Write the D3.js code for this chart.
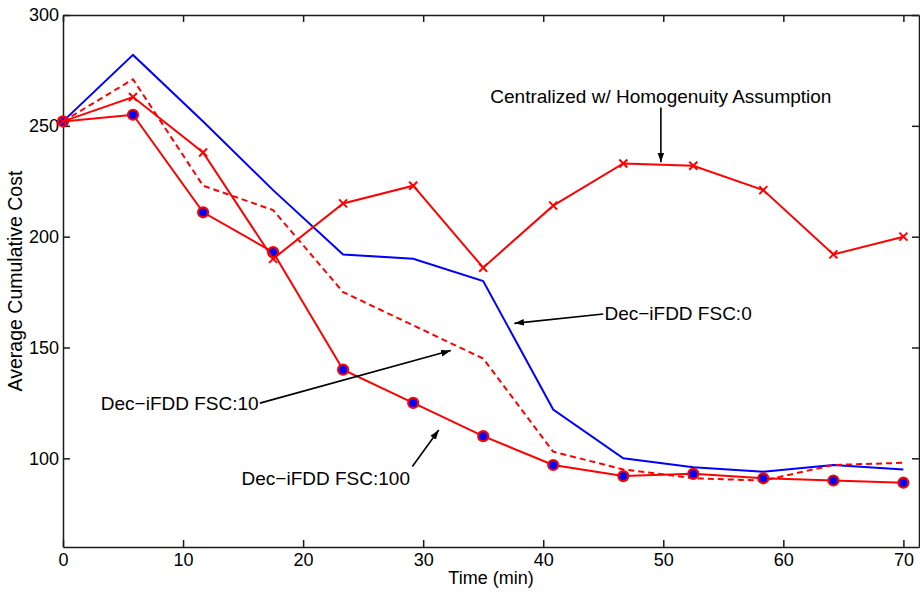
<!DOCTYPE html>
<html>
<head>
<meta charset="utf-8">
<script src="https://cdn.jsdelivr.net/npm/d3@7"></script>
<style>
  body { margin: 0; background: #fff; }
  text { font-family: "Liberation Sans", Arial, Helvetica, sans-serif; fill: #000; }
  .axis text { font-size: 18px; }
  .axis line, .axis path { stroke: #1a1a1a; stroke-width: 1.5; }
</style>
</head>
<body>
<div id="chart"></div>
<script>
// sample times (minutes)
const times = [0, 5.83, 11.67, 17.5, 23.33, 29.17, 35, 40.83, 46.67, 52.5, 58.33, 64.17, 70];

const centralized = [252, 263, 238, 190, 215, 223, 186, 214, 233, 232, 221, 192, 200];
const fsc0 = [252, 282, 252, 221, 192, 190, 180, 122, 100, 96, 94, 97, 95];
const fsc10 = [252, 271, 223, 212, 175, 160, 145, 103, 95, 91, 90, 97, 98];
const fsc100 = [252, 255, 211, 193, 140, 125, 110, 97, 92, 93, 91, 90, 89];

const xTicks = [0, 10, 20, 30, 40, 50, 60, 70];
const yTicks = [100, 150, 200, 250, 300];

// annotation arrows in data units: label, text anchor point, tail, head
const notes = [
  { label: "Centralized w/ Homogenuity Assumption", tx: 49.8, ty: 260.2, anchor: "middle", x1: 49.8, y1: 258.3, x2: 49.8, y2: 233.6 },
  { label: "Dec\u2212iFDD FSC:0", tx: 45.1, ty: 162.4, anchor: "start", x1: 45.0, y1: 165.1, x2: 37.6, y2: 160.9 },
  { label: "Dec\u2212iFDD FSC:10", tx: 16.3, ty: 121.8, anchor: "end", x1: 16.4, y1: 124.9, x2: 32.3, y2: 148.6 },
  { label: "Dec\u2212iFDD FSC:100", tx: 28.9, ty: 88.0, anchor: "end", x1: 29.1, y1: 96.3, x2: 31.3, y2: 112.8 }
];

const W = 920, H = 592;
const margin = { top: 15, right: 1, bottom: 45, left: 63 };
const width = W - margin.left - margin.right;
const height = H - margin.top - margin.bottom;

const svg = d3.select("#chart").append("svg")
  .attr("width", W)
  .attr("height", H);

const g = svg.append("g").attr("transform", `translate(${margin.left},${margin.top})`);

const x = d3.scaleLinear().domain([0, 71.3]).range([0, width]);
const y = d3.scaleLinear().domain([60, 300]).range([height, 0]);

// axes, MATLAB style: ticks inside, on all four sides
g.append("g").attr("class", "axis")
  .attr("transform", `translate(0,${height})`)
  .call(d3.axisBottom(x).tickValues(xTicks).tickSize(-7).tickPadding(6).tickSizeOuter(0))
  .selectAll("text").attr("dy", "0.71em");
g.append("g").attr("class", "axis")
  .call(d3.axisTop(x).tickValues(xTicks).tickSize(-7).tickFormat("").tickSizeOuter(0));
g.append("g").attr("class", "axis")
  .call(d3.axisLeft(y).tickValues(yTicks).tickSize(-7).tickPadding(4).tickSizeOuter(0));
g.append("g").attr("class", "axis")
  .attr("transform", `translate(${width},0)`)
  .call(d3.axisRight(y).tickValues(yTicks).tickSize(-7).tickFormat("").tickSizeOuter(0));

g.append("text")
  .attr("transform", "rotate(-90)")
  .attr("x", -height / 2)
  .attr("y", -41.5)
  .style("text-anchor", "middle")
  .style("font-size", "19.5px")
  .text("Average Cumulative Cost");

g.append("text")
  .attr("x", width / 2)
  .attr("y", height + 37)
  .style("text-anchor", "middle")
  .style("font-size", "18px")
  .text("Time (min)");

const line = d3.line().x(d => x(d[0])).y(d => y(d[1]));
const pts = vals => times.map((t, i) => [t, vals[i]]);

g.append("path").datum(pts(fsc0))
  .attr("d", line).attr("fill", "none").attr("stroke", "#0000ff").attr("stroke-width", 2);

g.append("path").datum(pts(fsc10))
  .attr("d", line).attr("fill", "none").attr("stroke", "#ff0000").attr("stroke-width", 2)
  .attr("stroke-dasharray", "6,4");

g.append("path").datum(pts(fsc100))
  .attr("d", line).attr("fill", "none").attr("stroke", "#ff0000").attr("stroke-width", 2);

g.selectAll(".dot").data(pts(fsc100)).enter().append("circle")
  .attr("class", "dot")
  .attr("cx", d => x(d[0]))
  .attr("cy", d => y(d[1]))
  .attr("r", 5)
  .attr("fill", "#0000ff")
  .attr("stroke", "#ff0000")
  .attr("stroke-width", 2.2);

g.append("path").datum(pts(centralized))
  .attr("d", line).attr("fill", "none").attr("stroke", "#ff0000").attr("stroke-width", 2);

const s = 4;
g.selectAll(".xmark").data(pts(centralized)).enter().append("path")
  .attr("class", "xmark")
  .attr("d", d => {
    const cx = x(d[0]), cy = y(d[1]);
    return `M${cx - s},${cy - s}L${cx + s},${cy + s}M${cx - s},${cy + s}L${cx + s},${cy - s}`;
  })
  .attr("stroke", "#ff0000")
  .attr("stroke-width", 2)
  .attr("fill", "none");

// annotations
svg.append("defs").append("marker")
  .attr("id", "arrow")
  .attr("viewBox", "0 0 10 10")
  .attr("refX", 10).attr("refY", 5)
  .attr("markerWidth", 6).attr("markerHeight", 6)
  .attr("markerUnits", "strokeWidth")
  .attr("orient", "auto")
  .append("path").attr("d", "M0,1.5L10,5L0,8.5Z").attr("fill", "#000");

notes.forEach(n => {
  g.append("line")
    .attr("x1", x(n.x1)).attr("y1", y(n.y1))
    .attr("x2", x(n.x2)).attr("y2", y(n.y2))
    .attr("stroke", "#000").attr("stroke-width", 1.6)
    .attr("marker-end", "url(#arrow)");
  g.append("text")
    .attr("x", x(n.tx)).attr("y", y(n.ty))
    .style("text-anchor", n.anchor)
    .style("font-size", "19px")
    .text(n.label);
});
</script>
</body>
</html>
